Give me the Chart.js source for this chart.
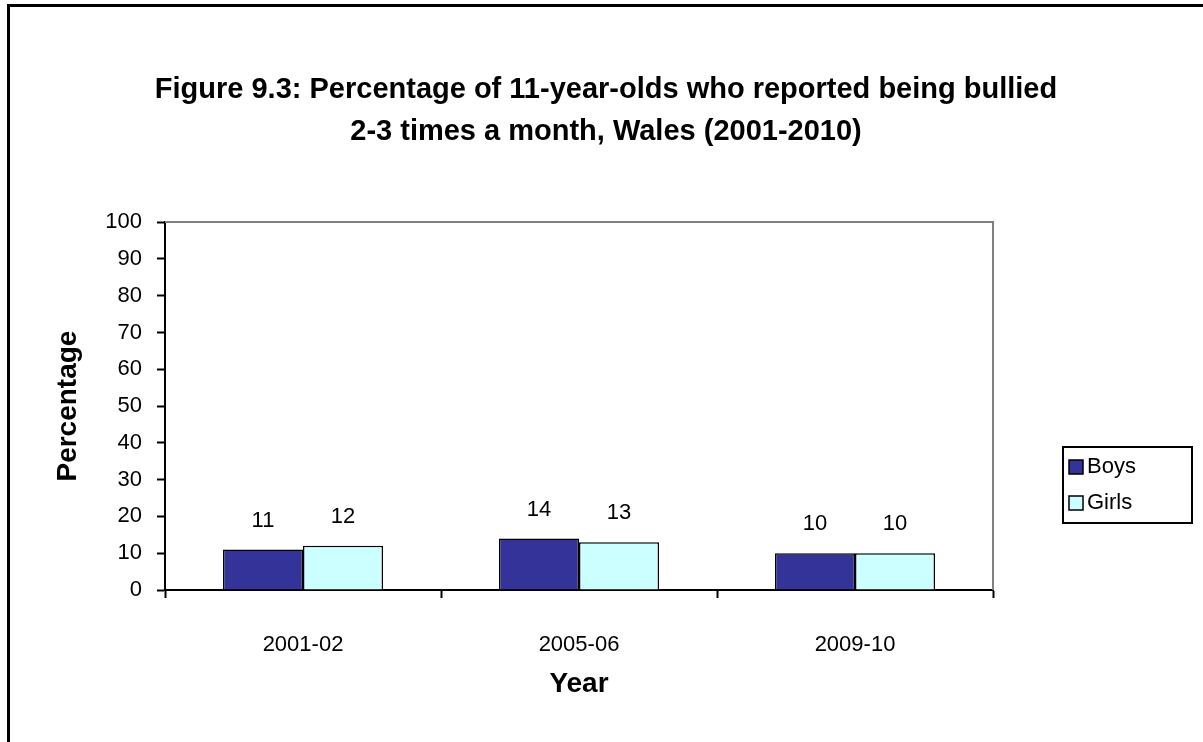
<!DOCTYPE html>
<html>
<head>
<meta charset="utf-8">
<script src="https://cdn.jsdelivr.net/npm/chart.js@4.4.1/dist/chart.umd.min.js"></script>
<style>
body{margin:0;background:#fff;}
#frame{position:absolute;left:7px;top:4px;width:1300px;height:900px;border-left:3px solid #000;border-top:3px solid #000;}
#graph{position:absolute;left:0;top:0;}
</style>
</head>
<body>
<div id="frame"></div>
<canvas id="graph" width="1203" height="742"></canvas>
<script>

// data
let years=["2001-02","2005-06","2009-10"];
let boys=[11,14,10];
let girls=[12,13,10];
let seriesNames=["Boys","Girls"];
let titleLines=["Figure 9.3: Percentage of 11-year-olds who reported being bullied","2-3 times a month, Wales (2001-2010)"];

let FONT="'Liberation Sans', Arial, sans-serif";

// gray frame on top/right of the plot area
let plotFrame={
id:"plotFrame",
beforeDatasetsDraw(chart){
let a=chart.chartArea, c=chart.ctx;
c.save();
c.strokeStyle="#808080";
c.lineWidth=2;
c.beginPath();
c.moveTo(a.left,a.top);
c.lineTo(a.right,a.top);
c.lineTo(a.right,a.bottom);
c.stroke();
c.restore();
}
};

// numbers above the bars
let valueLabels={
id:"valueLabels",
afterDatasetsDraw(chart){
let c=chart.ctx;
c.save();
c.font="22px "+FONT;
c.fillStyle="#000";
c.textAlign="center";
c.textBaseline="middle";
chart.data.datasets.forEach((ds,i)=>{
chart.getDatasetMeta(i).data.forEach((bar,j)=>{
c.fillText(ds.data[j],bar.x,bar.y-29);
});
});
c.restore();
}
};

// boxed legend on the right
let boxLegend={
id:"boxLegend",
afterDraw(chart){
let c=chart.ctx;
let x=1063,y=447,w=129,h=76,row=36;
c.save();
c.strokeStyle="#000";
c.lineWidth=2;
c.strokeRect(x,y,w,h);
c.font="22px "+FONT;
c.textBaseline="middle";
chart.data.datasets.forEach((ds,i)=>{
let cy=y+20+i*row;
c.fillStyle=ds.backgroundColor;
c.fillRect(x+6,cy-7,14,14);
c.lineWidth=1.5;
c.strokeRect(x+6,cy-7,14,14);
c.fillStyle="#000";
c.fillText(ds.label,x+24,cy);
});
c.restore();
}
};

new Chart(document.getElementById("graph"),{
type:"bar",
data:{
labels:years,
datasets:[
{label:seriesNames[0],data:boys,backgroundColor:"#333399",borderColor:"#000",borderWidth:1.5},
{label:seriesNames[1],data:girls,backgroundColor:"#CCFFFF",borderColor:"#000",borderWidth:1.5}
]
},
options:{
responsive:false,
animation:false,
layout:{padding:{left:9,right:0,top:69,bottom:37}},
datasets:{bar:{categoryPercentage:0.58,barPercentage:1}},
plugins:{
legend:{display:false},
tooltip:{enabled:false},
title:{
display:true,
text:titleLines,
color:"#000",
font:{family:FONT,size:29,weight:"bold",lineHeight:1.45},
padding:{top:0,bottom:69}
}
},
scales:{
x:{
afterFit(s){s.height=115;},
border:{color:"#000",width:2},
grid:{drawOnChartArea:false,drawTicks:true,tickLength:8,tickColor:"#000",tickWidth:2},
ticks:{color:"#000",padding:34,font:{family:FONT,size:22}},
title:{display:true,text:"Year",color:"#000",font:{family:FONT,size:28,weight:"bold"},padding:{top:4,bottom:4}}
},
y:{
min:0,max:100,
afterFit(s){s.width=156;},
border:{color:"#000",width:2},
grid:{drawOnChartArea:false,drawTicks:true,tickLength:8,tickColor:"#000",tickWidth:2},
ticks:{stepSize:10,color:"#000",padding:15,font:{family:FONT,size:22}},
title:{display:true,text:"Percentage",color:"#000",font:{family:FONT,size:28,weight:"bold"},padding:{top:42,bottom:4}}
},
// empty right-hand band that leaves room for the legend
yRight:{
axis:"y",
position:"right",
afterFit(s){s.width=210;},
border:{display:false},
grid:{display:false},
ticks:{display:false}
}
}
},
plugins:[plotFrame,valueLabels,boxLegend]
});

</script>
</body>
</html>
